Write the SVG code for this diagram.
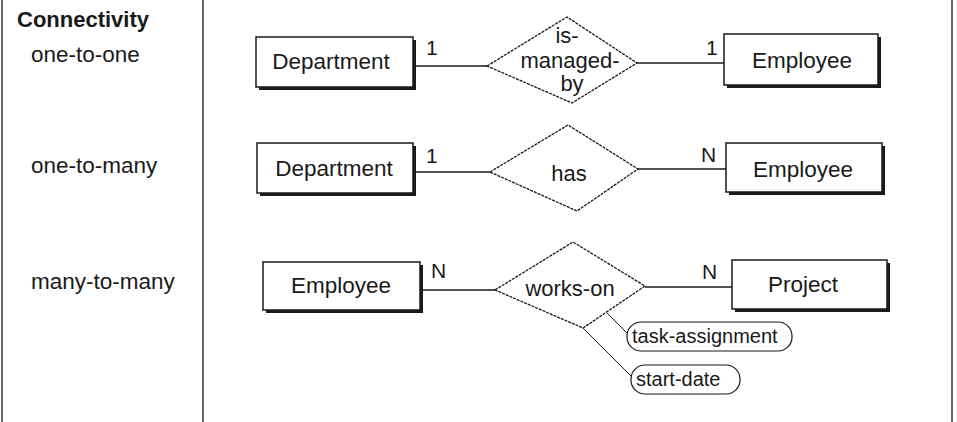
<svg xmlns="http://www.w3.org/2000/svg" width="957" height="422" viewBox="0 0 957 422">
<style>
text{font-family:"Liberation Sans",Arial,sans-serif;fill:#1a1a1a}
.lbl{font-size:22.5px}
.hd{font-size:22px;font-weight:bold}
.ent{font-size:22.5px;text-anchor:middle}
.card{font-size:21px}
.rel{font-size:22px;text-anchor:middle}
.att{font-size:20px}
.box{fill:#fff;stroke:#1a1a1a;stroke-width:1.5}
.shadow{fill:#1a1a1a}
.dia{fill:#fff;stroke:#1a1a1a;stroke-width:1.3;stroke-dasharray:3 1}
.conn line{stroke:#1a1a1a;stroke-width:1.6}
.conn line.thin{stroke-width:1}
.frame{stroke:#333;stroke-width:1.5}
.attr{fill:#fff;stroke:#1a1a1a;stroke-width:1.2}
</style>
<rect width="957" height="422" fill="#fff"/>
<g id="frame">
<line class="frame" x1="2" y1="0" x2="2" y2="422"/>
<line class="frame" x1="203" y1="0" x2="203" y2="422"/>
<line class="frame" x1="952" y1="0" x2="952" y2="422"/>
</g>
<g id="legend">
<text class="hd" x="17" y="27">Connectivity</text>
<text class="lbl" x="31" y="62">one-to-one</text>
<text class="lbl" x="31" y="173">one-to-many</text>
<text class="lbl" x="31" y="289">many-to-many</text>
</g>
<g id="connectors" class="conn">
<line x1="413" y1="66" x2="487" y2="66"/>
<line x1="637" y1="63" x2="724" y2="63"/>
<line x1="413" y1="172" x2="490" y2="172"/>
<line x1="638" y1="169" x2="726" y2="169"/>
<line x1="420" y1="290" x2="495" y2="290"/>
<line x1="645" y1="287" x2="732" y2="287"/>
<line class="thin" x1="607" y1="313" x2="628" y2="334"/>
<line class="thin" x1="583" y1="328" x2="632" y2="377"/>
<text class="card" x="426" y="55">1</text>
<text class="card" x="706" y="55">1</text>
<text class="card" x="426" y="163">1</text>
<text class="card" x="701" y="162">N</text>
<text class="card" x="431" y="278">N</text>
<text class="card" x="702" y="279">N</text>
</g>
<g id="dept1">
<rect class="shadow" x="259" y="40" width="157" height="50"/>
<rect class="box" x="256" y="37" width="157" height="50"/>
<text class="ent" x="331" y="69">Department</text>
</g>
<g id="ismanagedby">
<polygon class="dia" points="487,66 567,17 637,63 572,103"/>
<text class="rel" x="567" y="43">is-</text>
<text class="rel" x="570" y="68">managed-</text>
<text class="rel" x="572" y="91">by</text>
</g>
<g id="emp1">
<rect class="shadow" x="727" y="37" width="154" height="51"/>
<rect class="box" x="724" y="34" width="154" height="51"/>
<text class="ent" x="802" y="68">Employee</text>
</g>
<g id="dept2">
<rect class="shadow" x="260" y="146" width="156" height="50"/>
<rect class="box" x="257" y="143" width="156" height="50"/>
<text class="ent" x="334" y="176">Department</text>
</g>
<g id="has">
<polygon class="dia" points="490,172 568,125 638,169 577,211"/>
<text class="rel" x="569" y="181">has</text>
</g>
<g id="emp2">
<rect class="shadow" x="729" y="146" width="156" height="49"/>
<rect class="box" x="726" y="143" width="156" height="49"/>
<text class="ent" x="803" y="177">Employee</text>
</g>
<g id="emp3">
<rect class="shadow" x="266" y="265" width="157" height="48"/>
<rect class="box" x="263" y="262" width="157" height="48"/>
<text class="ent" x="341" y="293">Employee</text>
</g>
<g id="workson">
<polygon class="dia" points="495,290 573,242 645,286 583,328"/>
<text class="rel" x="570" y="296">works-on</text>
</g>
<g id="project">
<rect class="shadow" x="735" y="263" width="155" height="49"/>
<rect class="box" x="732" y="260" width="155" height="49"/>
<text class="ent" x="803" y="292">Project</text>
</g>
<g id="taskassignment">
<rect class="attr" x="627" y="322" width="165" height="29" rx="14" ry="14"/>
<text class="att" x="632" y="343">task-assignment</text>
</g>
<g id="startdate">
<rect class="attr" x="631" y="365" width="109" height="29" rx="14" ry="14"/>
<text class="att" x="636" y="386">start-date</text>
</g>
</svg>
